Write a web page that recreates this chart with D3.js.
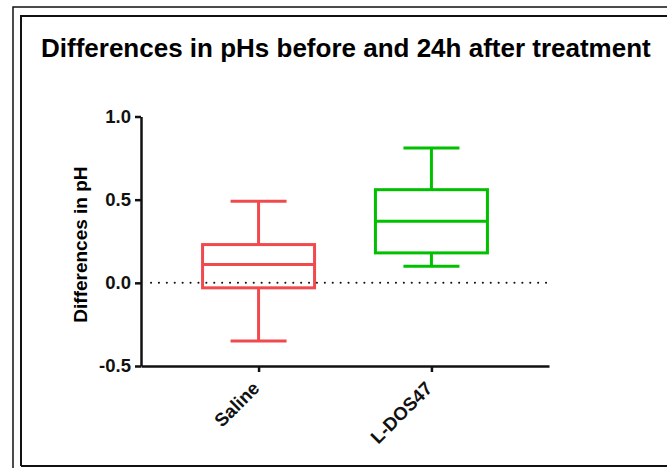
<!DOCTYPE html>
<html>
<head>
  <meta charset="utf-8">
  <style>
    body { margin: 0; background: white; font-family: "Liberation Sans", Arial, sans-serif; }
  </style>
</head>
<body>
  <svg id="chart"></svg>
  <script src="https://cdn.jsdelivr.net/npm/d3@7"></script>
  <script>
    // data
    var groups = ["Saline", "L-DOS47"];
    var mins = [-0.35, 0.10];
    var q1s = [-0.03, 0.18];
    var medians = [0.11, 0.37];
    var q3s = [0.23, 0.56];
    var maxs = [0.49, 0.81];
    var colors = ["#f04a4f", "#00c000"];
    var yTicks = [-0.5, 0.0, 0.5, 1.0];

    var width = 667, height = 468;
    var svg = d3.select("#chart").attr("width", width).attr("height", height);

    // frames
    svg.append("path").attr("d", "M13,468 V7 H667")
      .attr("fill", "none").attr("stroke", "#111").attr("stroke-width", 1.5);
    svg.append("path").attr("d", "M21,466 V16 H667 M21,466 H667")
      .attr("fill", "none").attr("stroke", "#111").attr("stroke-width", 2);

    var x = d3.scalePoint().domain(groups).range([141, 549]).padding(0.68);
    var y = d3.scaleLinear().domain([-0.5, 1.0]).range([366, 116.5]);
    var boxW = 112, capW = 56;

    // title
    svg.append("text")
      .attr("x", 41).attr("y", 57)
      .attr("font-size", "26px").attr("font-weight", "bold")
      .text("Differences in pHs before and 24h after treatment");

    // zero line
    svg.append("line")
      .attr("x1", 151).attr("x2", 549)
      .attr("y1", y(0)).attr("y2", y(0))
      .attr("stroke", "#111").attr("stroke-width", 2)
      .attr("stroke-linecap", "round")
      .attr("stroke-dasharray", "0.1,7.8");

    // boxes
    var data = groups.map(function (g, i) {
      return { name: g, min: mins[i], q1: q1s[i], med: medians[i], q3: q3s[i], max: maxs[i], color: colors[i] };
    });
    var box = svg.append("g").selectAll("g").data(data).join("g")
      .attr("stroke", function (d) { return d.color; })
      .attr("stroke-width", 3)
      .attr("fill", "none");
    box.append("line")
      .attr("x1", function (d) { return x(d.name); }).attr("x2", function (d) { return x(d.name); })
      .attr("y1", function (d) { return y(d.max); }).attr("y2", function (d) { return y(d.q3); });
    box.append("line")
      .attr("x1", function (d) { return x(d.name); }).attr("x2", function (d) { return x(d.name); })
      .attr("y1", function (d) { return y(d.q1); }).attr("y2", function (d) { return y(d.min); });
    box.append("line")
      .attr("x1", function (d) { return x(d.name) - capW / 2; }).attr("x2", function (d) { return x(d.name) + capW / 2; })
      .attr("y1", function (d) { return y(d.max); }).attr("y2", function (d) { return y(d.max); });
    box.append("line")
      .attr("x1", function (d) { return x(d.name) - capW / 2; }).attr("x2", function (d) { return x(d.name) + capW / 2; })
      .attr("y1", function (d) { return y(d.min); }).attr("y2", function (d) { return y(d.min); });
    box.append("rect")
      .attr("x", function (d) { return x(d.name) - boxW / 2; })
      .attr("width", boxW)
      .attr("y", function (d) { return y(d.q3); })
      .attr("height", function (d) { return y(d.q1) - y(d.q3); });
    box.append("line")
      .attr("x1", function (d) { return x(d.name) - boxW / 2; }).attr("x2", function (d) { return x(d.name) + boxW / 2; })
      .attr("y1", function (d) { return y(d.med); }).attr("y2", function (d) { return y(d.med); });

    // y axis
    var yAxis = d3.axisLeft(y).tickValues(yTicks).tickFormat(d3.format(".1f")).tickSize(6).tickPadding(4).tickSizeOuter(0);
    var gy = svg.append("g").attr("transform", "translate(141,0)").call(yAxis);
    gy.select(".domain").attr("stroke", "#111").attr("stroke-width", 2.5);
    gy.selectAll(".tick line").attr("stroke", "#111").attr("stroke-width", 2.5);
    gy.selectAll("text").attr("font-size", "18.5px").attr("font-weight", "bold")
      .attr("font-family", "Liberation Sans, Arial, sans-serif").attr("fill", "#111")
      .text(function (d) { return d3.format(".1f")(d).replace("\u2212", "-"); });

    // x axis
    var xAxis = d3.axisBottom(x).tickSize(6).tickSizeOuter(0).tickFormat("");
    var gx = svg.append("g").attr("transform", "translate(0,366)").call(xAxis);
    gx.select(".domain").attr("stroke", "#111").attr("stroke-width", 2.5);
    gx.selectAll(".tick line").attr("stroke", "#111").attr("stroke-width", 2.5);
    gx.selectAll(".tick").append("text")
      .attr("transform", "translate(-3,19) rotate(-45)")
      .attr("text-anchor", "end")
      .attr("dy", "0.35em")
      .attr("font-size", "18.5px").attr("font-weight", "bold")
      .attr("font-family", "Liberation Sans, Arial, sans-serif").attr("fill", "#111")
      .text(function (d) { return d; });

    // y label
    svg.append("text")
      .attr("transform", "translate(87," + y(0.23) + ") rotate(-90)")
      .attr("text-anchor", "middle")
      .attr("font-size", "19px").attr("font-weight", "bold")
      .text("Differences in pH");
  </script>
</body>
</html>
